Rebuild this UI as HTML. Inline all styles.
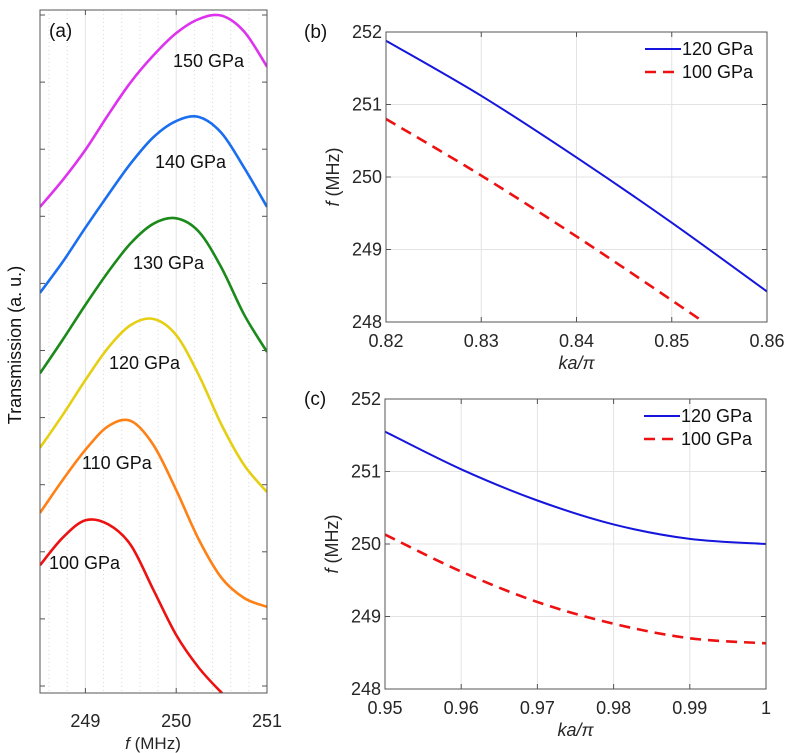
<!DOCTYPE html>
<html><head><meta charset="utf-8"><style>
html,body{margin:0;padding:0;background:#fff;}
svg{display:block;font-family:"Liberation Sans",sans-serif;}
</style></head><body>
<svg id="fig" width="790" height="753" viewBox="0 0 790 753" xmlns="http://www.w3.org/2000/svg">
<defs>
<clipPath id="clipA"><rect x="40" y="10" width="227" height="683"/></clipPath>
<clipPath id="clipB"><rect x="386" y="32" width="381" height="290"/></clipPath>
<clipPath id="clipC"><rect x="385" y="399" width="381" height="290"/></clipPath>
</defs>
<g id="panelA"></g>
<g id="panelB"></g>
<g id="panelC"></g>
</svg>
<script>
// Panel (a) data
const freqA = [248.5,248.75,249,249.25,249.5,249.75,250,250.25,250.5,250.75,251];
const t100 = [1.80,2.21,2.47,2.41,2.10,1.43,0.76,0.27,-0.10,-0.43,-0.7];
const t110 = [2.58,3.07,3.52,3.87,3.95,3.59,2.92,2.18,1.61,1.31,1.18];
const t120 = [3.55,4.04,4.56,5.04,5.38,5.47,5.23,4.63,3.89,3.29,2.89];
const t130 = [4.66,5.16,5.68,6.17,6.60,6.89,6.97,6.77,6.23,5.53,4.98];
const t140 = [5.86,6.32,6.83,7.32,7.79,8.18,8.42,8.48,8.24,7.72,7.14];
const t150 = [7.14,7.54,7.99,8.51,9.00,9.40,9.73,9.94,9.99,9.75,9.23];
const labelsA = ["100 GPa","110 GPa","120 GPa","130 GPa","140 GPa","150 GPa"];
const xTicksA = [249,250,251];
// Panel (b) data
const kaB = [0.82,0.83,0.84,0.85,0.86];
const fB120 = [251.88,251.12,250.27,249.37,248.42];
const fB100 = [250.8,250.02,249.18,248.3,247.4];
const xTicksB = [0.82,0.83,0.84,0.85,0.86];
// Panel (c) data
const kaC = [0.95,0.96,0.97,0.98,0.99,1.0];
const fC120 = [251.55,251.03,250.6,250.27,250.07,250.0];
const fC100 = [250.13,249.62,249.2,248.9,248.7,248.63];
const xTicksC = [0.95,0.96,0.97,0.98,0.99,1];
const yTicksBC = [248,249,250,251,252];

const NS="http://www.w3.org/2000/svg";
function mk(parent,tag,attrs,text){const e=document.createElementNS(NS,tag);for(const k in attrs)e.setAttribute(k,attrs[k]);if(text!==undefined)e.textContent=text;parent.appendChild(e);return e;}
function smooth(pts){let d="M"+pts[0][0]+","+pts[0][1];for(let i=0;i<pts.length-1;i++){const p0=pts[Math.max(0,i-1)],p1=pts[i],p2=pts[i+1],p3=pts[Math.min(pts.length-1,i+2)];const c1=[p1[0]+(p2[0]-p0[0])/6,p1[1]+(p2[1]-p0[1])/6],c2=[p2[0]-(p3[0]-p1[0])/6,p2[1]-(p3[1]-p1[1])/6];d+=" C"+c1[0]+","+c1[1]+" "+c2[0]+","+c2[1]+" "+p2[0]+","+p2[1];}return d;}

// ---------- Panel A ----------
(function(){
const g=document.getElementById('panelA');
const L=40,R=267,T=10,B=693;
const xA=v=>L+(v-248.5)/(251-248.5)*(R-L);
const yA=v=>686-v*67.1;
for(let v=248.6;v<250.99;v+=0.2){const x=xA(v);if(Math.abs(v-Math.round(v))<0.01)continue;const e=mk(g,'line',{x1:x,x2:x,y1:T,y2:B,stroke:'#d8d8d8','stroke-width':1,'stroke-dasharray':'1,3'});

}
xTicksA.forEach(v=>{const x=xA(v);const e=mk(g,'line',{x1:x,x2:x,y1:T,y2:B,stroke:'#e4e4e4','stroke-width':1});


const t=mk(g,'text',{x:x,y:727,'font-size':18,'text-anchor':'middle',fill:'#262626'},String(v));


mk(g,'line',{x1:x,x2:x,y1:B,y2:B-5,stroke:'#555'});mk(g,'line',{x1:x,x2:x,y1:T,y2:T+5,stroke:'#555'});});
for(let k=0;k<=10;k++){const y=yA(k);mk(g,'line',{x1:L,x2:L+5,y1:y,y2:y,stroke:'#555'});mk(g,'line',{x1:R,x2:R-5,y1:y,y2:y,stroke:'#555'});}
const series=[[t100,'#ee1111'],[t110,'#ff8015'],[t120,'#e6cf13'],[t130,'#1a8a1a'],[t140,'#1a6ef0'],[t150,'#dd33ee']];
const cg=mk(g,'g',{'clip-path':'url(#clipA)'});
series.forEach((s,i)=>{const pts=freqA.map((f,j)=>[xA(f),yA(s[0][j])]);const p=mk(cg,'path',{d:smooth(pts),fill:'none',stroke:s[1],'stroke-width':2.6});

});
const lab=[[49,569],[82,469],[109,369],[133,269],[155,168],[173,67]];
labelsA.forEach((s,i)=>{const t=mk(g,'text',{x:lab[i][0],y:lab[i][1],'font-size':18,fill:'#111'},s);

});
const box=mk(g,'rect',{x:L,y:T,width:R-L,height:B-T,fill:'none',stroke:'#555','stroke-width':1});


const pl=mk(g,'text',{x:49,y:37,'font-size':19,fill:'#111'},'(a)');


const yl=mk(g,'text',{x:0,y:0,'font-size':18,'text-anchor':'middle',fill:'#111',transform:'translate(21,345) rotate(-90)'},'Transmission (a. u.)');


const xl=mk(g,'text',{x:153,y:749,'font-size':17,'text-anchor':'middle',fill:'#262626'});


mk(xl,'tspan',{'font-style':'italic'},'f');mk(xl,'tspan',{},' (MHz)');
})();

// ---------- Panels B and C ----------
function linePanel(id,L,R,T,B,xmin,xmax,xt,ka,f120,f100,clip,label){
const g=document.getElementById(id);
const xS=v=>L+(v-xmin)/(xmax-xmin)*(R-L);
const yS=v=>B-(v-248)/4*(B-T);
xt.forEach(v=>{const x=xS(v);mk(g,'line',{x1:x,x2:x,y1:T,y2:B,stroke:'#e3e3e3'});mk(g,'line',{x1:x,x2:x,y1:B,y2:B-5,stroke:'#555'});mk(g,'line',{x1:x,x2:x,y1:T,y2:T+5,stroke:'#555'});
const t=mk(g,'text',{x:x,y:B+25,'font-size':18,'text-anchor':'middle',fill:'#262626'},String(v));

});
yTicksBC.forEach(v=>{const y=yS(v);mk(g,'line',{x1:L,x2:R,y1:y,y2:y,stroke:'#e3e3e3'});mk(g,'line',{x1:L,x2:L+5,y1:y,y2:y,stroke:'#555'});mk(g,'line',{x1:R,x2:R-5,y1:y,y2:y,stroke:'#555'});
const t=mk(g,'text',{x:L-4,y:y+6,'font-size':18,'text-anchor':'end',fill:'#262626'},String(v));

});
const cg=mk(g,'g',{'clip-path':'url(#'+clip+')'});
const p1=mk(cg,'path',{d:smooth(ka.map((k,i)=>[xS(k),yS(f120[i])])),fill:'none',stroke:'#1515dd','stroke-width':2});


const p2=mk(cg,'path',{d:smooth(ka.map((k,i)=>[xS(k),yS(f100[i])])),fill:'none',stroke:'#ee1111','stroke-width':2.6,'stroke-dasharray':'11,7'});


const box=mk(g,'rect',{x:L,y:T,width:R-L,height:B-T,fill:'none',stroke:'#555'});


const lg=mk(g,'g',{});


mk(lg,'line',{x1:R-122,x2:R-86,y1:T+17,y2:T+17,stroke:'#1515dd','stroke-width':2});
mk(lg,'line',{x1:R-122,x2:R-86,y1:T+40,y2:T+40,stroke:'#ee1111','stroke-width':2.6,'stroke-dasharray':'11,7'});
const e1=mk(lg,'text',{x:R-85,y:T+23,'font-size':18,fill:'#111'},'120 GPa');


const e2=mk(lg,'text',{x:R-85,y:T+46,'font-size':18,fill:'#111'},'100 GPa');


const pl=mk(g,'text',{x:304,y:T+6,'font-size':19,fill:'#111'},label);


const yl=mk(g,'text',{x:0,y:0,'font-size':18,'text-anchor':'middle',fill:'#262626',transform:'translate('+(L-47)+','+((T+B)/2)+') rotate(-90)'});


mk(yl,'tspan',{'font-style':'italic'},'f');mk(yl,'tspan',{},' (MHz)');
const xl=mk(g,'text',{x:(L+R)/2,y:B+47,'font-size':18,'text-anchor':'middle',fill:'#262626'});


mk(xl,'tspan',{'font-style':'italic'},'ka/π');
}
linePanel('panelB',386,767,32,322,0.82,0.86,xTicksB,kaB,fB120,fB100,'clipB','(b)');
linePanel('panelC',385,766,399,689,0.95,1.0,xTicksC,kaC,fC120,fC100,'clipC','(c)');
</script>
</body></html>
